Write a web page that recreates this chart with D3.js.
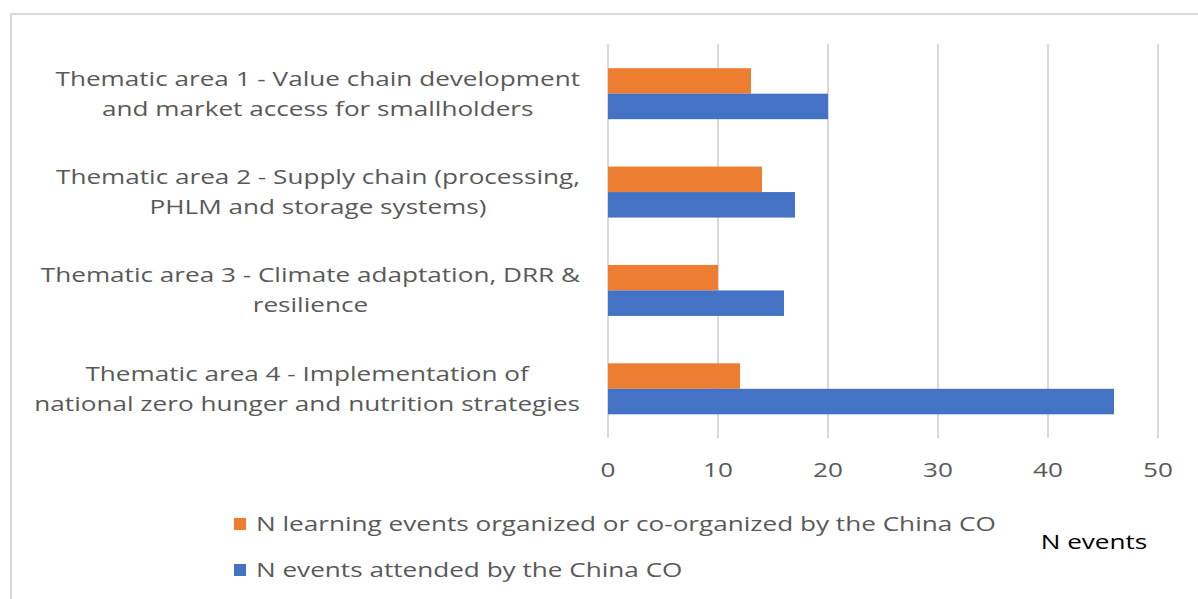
<!DOCTYPE html>
<html><head><meta charset="utf-8">
<script src="https://cdn.jsdelivr.net/npm/d3@7"></script>
<style>body{margin:0;background:#fff}svg{display:block}</style>
</head><body>
<svg id="c" width="1198" height="599"></svg>
<script>
const categories = [
  ["Thematic area 1 - Value chain development", "and market access for smallholders"],
  ["Thematic area 2 - Supply chain (processing,", "PHLM and storage systems)"],
  ["Thematic area 3 - Climate adaptation, DRR &", "resilience"],
  ["Thematic area 4 - Implementation of", "national zero hunger and nutrition strategies"]
];
const organized = [13, 14, 10, 12];
const attended = [20, 17, 16, 46];
const ticks = [0, 10, 20, 30, 40, 50];
const seriesNames = ["N learning events organized or co-organized by the China CO", "N events attended by the China CO"];
const colors = ["#ED7D31", "#4472C4"];
const axisTitle = "N events";

const svg = d3.select("#c");
const font = "'Open Sans', 'Noto Sans', sans-serif";
const txt = "#595959";
const SX = 1.34, FS = 19.5;

function label(px, py, s, anchor, fill) {
  const gg = svg.append("g").attr("transform", `translate(${px},${py}) scale(${SX},1)`);
  const t = gg.append("text").attr("dy", "0.35em").attr("text-anchor", anchor || "start")
    .attr("font-family", font).attr("font-size", FS).attr("fill", fill || txt).text(s);
  return {g: gg, t: t, w: t.node().getComputedTextLength() * SX};
}

// frame
svg.append("path").attr("d", "M11,600 V14 H1200").attr("fill","none").attr("stroke","#d9d9d9").attr("stroke-width",2);

const x = d3.scaleLinear().domain([0, 50]).range([608, 1158]);
const y = d3.scaleBand().domain(d3.range(categories.length)).range([44.5, 438]);
const inner = d3.scaleBand().domain([0,1]).range([0, 51]);

svg.append("g").selectAll("line").data(ticks).join("line")
  .attr("x1", d=>x(d)).attr("x2", d=>x(d)).attr("y1", 44).attr("y2", 438)
  .attr("stroke", "#d9d9d9").attr("stroke-width", 2);

const g = svg.append("g").selectAll("g").data(categories.map((c,i)=>i)).join("g")
  .attr("transform", i => `translate(0,${y(i) + y.bandwidth()/2 - 25.5})`);
g.append("rect").attr("x", x(0)).attr("y", inner(0)).attr("height", inner.bandwidth())
  .attr("width", i => x(organized[i]) - x(0)).attr("fill", colors[0]);
g.append("rect").attr("x", x(0)).attr("y", inner(1)).attr("height", inner.bandwidth())
  .attr("width", i => x(attended[i]) - x(0)).attr("fill", colors[1]);

// category labels
categories.forEach((lines, i) => {
  const cy = y(i) + y.bandwidth()/2;
  const ls = lines.map((l, k) => label(0, cy + (k - (lines.length-1)/2) * 30, l, "middle"));
  const maxW = d3.max(ls, o => o.w);
  ls.forEach((o, k) => o.g.attr("transform", `translate(${580 - maxW/2},${cy + (k - (lines.length-1)/2) * 30}) scale(${SX},1)`));
});

// tick labels
ticks.forEach(d => label(x(d), 470, d, "middle"));

// legend
seriesNames.forEach((n, i) => {
  const ly = 524 + i * 46;
  svg.append("rect").attr("x", 234).attr("y", ly - 6).attr("width", 12).attr("height", 12).attr("fill", colors[i]);
  label(256, ly, n, "start");
});

label(1094, 542, axisTitle, "middle", "#000");
</script>
</body></html>
